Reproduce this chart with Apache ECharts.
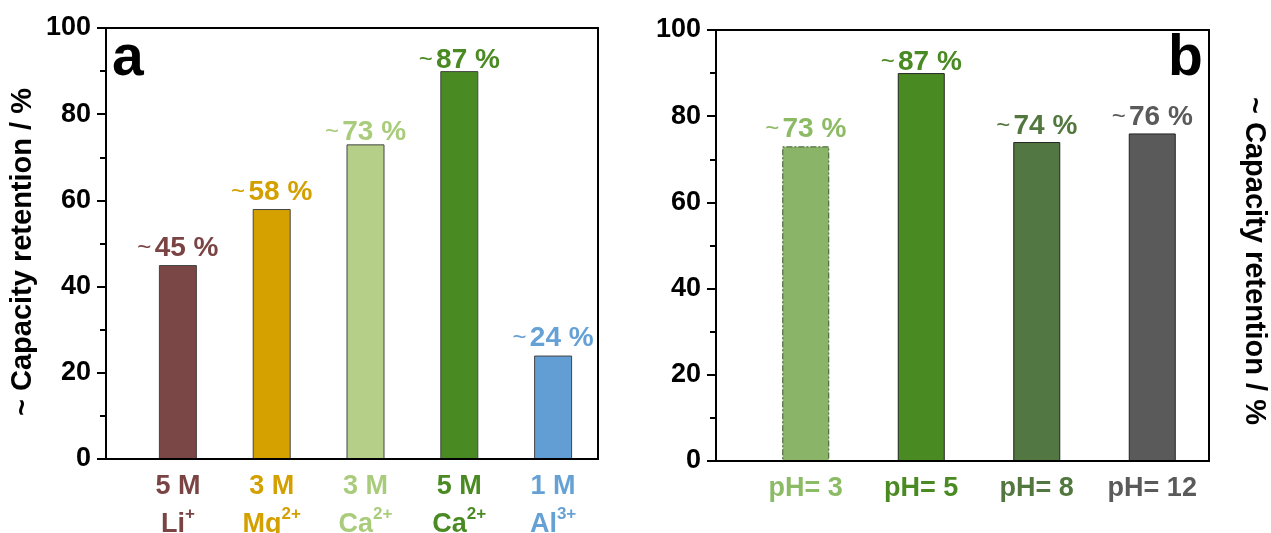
<!DOCTYPE html>
<html>
<head>
<meta charset="utf-8">
<script src="https://cdn.jsdelivr.net/npm/echarts@6/dist/echarts.min.js"></script>
<style>
html,body{margin:0;padding:0;background:#fff;}
#c{width:1271px;height:533px;}
</style>
</head>
<body>
<div id="c"></div>
<script>
// ---- data ----
const leftConc = ['5 M', '3 M', '3 M', '5 M', '1 M'];
const leftIon = ['Li', 'Mg', 'Ca', 'Ca', 'Al'];
const leftCharge = ['+', '2+', '2+', '2+', '3+'];
const leftValues = [45, 58, 73, 90, 24];
const leftValueLabels = ['45', '58', '73', '87', '24'];

const rightCats = ['pH= 3', 'pH= 5', 'pH= 8', 'pH= 12'];
const rightValues = [73, 90, 74, 76];
const rightValueLabels = ['73', '87', '74', '76'];

const yMin = 0, yMax = 100, yInterval = 20;
const yTitle = '~ Capacity retention / %';

// ---- styles ----
const leftBarColors = ['#7b4646', '#d4a100', '#b5cf88', '#4a8a22', '#629ed3'];
const leftTextColors = ['#7b4444', '#d4a000', '#a9cc7c', '#4a8a22', '#66a1d6'];
const rightBarColors = ['#8ab568', '#4a8a22', '#527742', '#5a5a5a'];
const rightTextColors = ['#8cbb65', '#4a8a22', '#52773f', '#5a5a5a'];
const leftLabelDist = [3, 3, -2, -3, 3];
const rightLabelDist = [3, -3, 2, 2];

const FONT = '"Liberation Sans", Arial, sans-serif';

const chart = echarts.init(document.getElementById('c'));

const rich = {};
leftConc.forEach((_, i) => {
  rich['c' + i] = {color: leftTextColors[i], fontSize: 27, fontWeight: 'bold', fontFamily: FONT, lineHeight: 38};
  rich['i' + i] = {color: leftTextColors[i], fontSize: 27, fontWeight: 'bold', fontFamily: FONT, lineHeight: 38};
  rich['s' + i] = {color: leftTextColors[i], fontSize: 17, fontWeight: 'bold', fontFamily: FONT, lineHeight: 22, verticalAlign: 'top'};
});

const rightRich = {};
rightCats.forEach((_, i) => {
  rightRich['p' + i] = {color: rightTextColors[i], fontSize: 27, fontWeight: 'bold', fontFamily: FONT};
});

function valueLabel(colors, texts, dists) {
  return function (idx) {
    return {
      show: true, position: 'top', distance: dists[idx],
      formatter: '{t|~} {v|' + texts[idx] + ' %}',
      rich: {
        t: {color: colors[idx], fontSize: 24, fontWeight: 'normal', fontFamily: FONT},
        v: {color: colors[idx], fontSize: 28, fontWeight: 'bold', fontFamily: FONT}
      }
    };
  };
}
const lLab = valueLabel(leftTextColors, leftValueLabels, leftLabelDist);
const rLab = valueLabel(rightTextColors, rightValueLabels, rightLabelDist);

const frameY = (gridIndex) => ({
  type: 'value', gridIndex, min: yMin, max: yMax, interval: yInterval,
  axisLine: {show: true, lineStyle: {color: '#000', width: 2}},
  axisTick: {show: true, inside: false, length: 9, lineStyle: {color: '#000', width: 2}},
  minorTick: {show: true, splitNumber: 2, length: 6, lineStyle: {color: '#000', width: 2}},
  splitLine: {show: false},
  axisLabel: {color: '#000', fontSize: 27, fontWeight: 'bold', fontFamily: FONT, margin: 15}
});
const hiddenY = (gridIndex) => ({type: 'value', gridIndex, min: yMin, max: yMax, show: false});

const option = {
  backgroundColor: '#fff',
  animation: false,
  grid: [
    {left: 106, top: 28, width: 492, height: 431, outerBoundsMode: 'none', containLabel: false, show: true, borderColor: '#000', borderWidth: 2, backgroundColor: 'transparent', z: 5},
    {left: 131, top: 28, width: 469, height: 431, outerBoundsMode: 'none', containLabel: false},
    {left: 716, top: 30, width: 493, height: 431, outerBoundsMode: 'none', containLabel: false, show: true, borderColor: '#000', borderWidth: 2, backgroundColor: 'transparent', z: 5},
    {left: 748, top: 30, width: 462, height: 431, outerBoundsMode: 'none', containLabel: false}
  ],
  xAxis: [
    {type: 'value', gridIndex: 0, show: false, min: 0, max: 1},
    {type: 'category', gridIndex: 1, data: leftConc.map((c, i) => i),
      axisLine: {show: false}, axisTick: {show: false},
      axisLabel: {interval: 0, margin: 9, formatter: (v, i) => '{c' + i + '|' + leftConc[i] + '}\n{i' + i + '|' + leftIon[i] + '}{s' + i + '|' + leftCharge[i] + '}', rich: rich}},
    {type: 'value', gridIndex: 2, show: false, min: 0, max: 1},
    {type: 'category', gridIndex: 3, data: rightCats,
      axisLine: {show: false}, axisTick: {show: false},
      axisLabel: {interval: 0, margin: 14, formatter: (v, i) => '{p' + i + '|' + v + '}', rich: rightRich}}
  ],
  yAxis: [frameY(0), hiddenY(1), frameY(2), hiddenY(3)],
  series: [
    {type: 'bar', xAxisIndex: 1, yAxisIndex: 1, barWidth: 38,
      data: leftValues.map((v, i) => ({value: v, itemStyle: {color: leftBarColors[i], borderColor: '#444', borderWidth: 1}, label: lLab(i)}))},
    {type: 'bar', xAxisIndex: 3, yAxisIndex: 3, barWidth: 47,
      data: rightValues.map((v, i) => ({value: v,
        itemStyle: {color: rightBarColors[i], borderColor: i === 0 ? '#3d5a2c' : '#222', borderWidth: 1, borderType: i === 0 ? [6, 2, 2, 2] : 'solid'},
        label: rLab(i)}))}
  ],
  graphic: [
    {type: 'text', left: 112, top: 31, style: {text: 'a', fontSize: 57, fontWeight: 'bold', fontFamily: FONT, fill: '#000'}},
    {type: 'text', left: 1168, top: 31, style: {text: 'b', fontSize: 57, fontWeight: 'bold', fontFamily: FONT, fill: '#000'}},
    {type: 'text', x: 23, y: 252, rotation: Math.PI / 2, style: {text: yTitle, fontSize: 29, fontWeight: 'bold', fontFamily: FONT, fill: '#000', align: 'center', verticalAlign: 'middle'}},
    {type: 'text', x: 1254, y: 261, rotation: -Math.PI / 2, style: {text: yTitle, fontSize: 29, fontWeight: 'bold', fontFamily: FONT, fill: '#000', align: 'center', verticalAlign: 'middle'}}
  ]
};
chart.setOption(option);
</script>
</body>
</html>
